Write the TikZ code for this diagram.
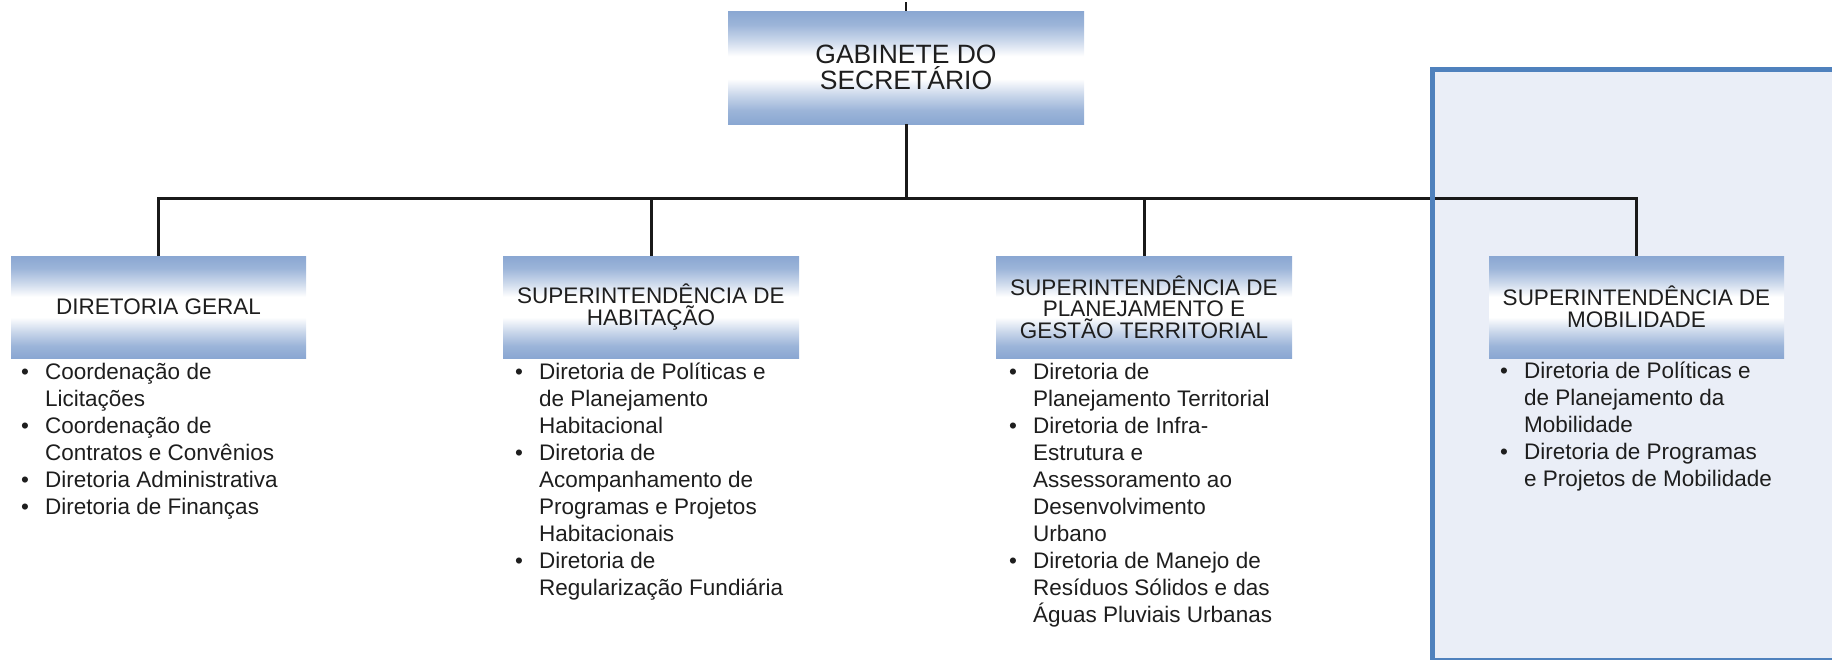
\documentclass[tikz,border=0pt]{standalone}
\usepackage{fontspec}
\setmainfont{Liberation Sans}
\definecolor{boxblue}{RGB}{138,167,210}
\definecolor{framefill}{RGB}{234,238,247}
\definecolor{frameline}{RGB}{79,129,189}
\definecolor{txt}{RGB}{30,30,30}
\pgfdeclareverticalshading{orgshade}{100bp}{color(0bp)=(boxblue); color(25bp)=(boxblue); color(31bp)=(boxblue!85); color(38bp)=(boxblue!45); color(45bp)=(white); color(55bp)=(white); color(62bp)=(boxblue!45); color(69bp)=(boxblue!85); color(75bp)=(boxblue); color(100bp)=(boxblue)}
\tikzset{
  orgbox/.style={shade, shading=orgshade, draw=none, inner sep=0pt, align=center,
    minimum width=296pt, minimum height=102pt, text=txt,
    font=\fontsize{22.5}{21.5}\selectfont},
  topbox/.style={orgbox, minimum width=356pt, minimum height=113pt,
    font=\fontsize{26.5}{25.5}\selectfont},
  listnode/.style={anchor=base west, inner sep=0pt, text=txt,
    font=\fontsize{22.5}{27}\selectfont},
  conn/.style={line width=3pt, black!90},
  frameshape/.style={line width=5pt, draw=frameline}
}
\newcommand{\blt}{\textbullet}
\newenvironment{blist}{\renewcommand{\arraystretch}{1}\begin{tabular}[t]{@{}p{24pt}@{}l@{}}}{\end{tabular}}
\begin{document}
\begin{tikzpicture}[x=1pt,y=-1pt]
\useasboundingbox (0,0) rectangle (1832,659);
% frame background
\begin{scope}
  \clip (0,0) rectangle (1832,659);
  \fill[framefill] (1432,69) rectangle (1850,660);
\end{scope}

% boxes
\node[topbox] (gab) at (906,67.5) {GABINETE DO\\SECRETÁRIO};
\node[orgbox, minimum width=295pt] (dg) at (158.5,307) {DIRETORIA GERAL};
\node[orgbox] (hab) at (651,307) {SUPERINTENDÊNCIA DE\\HABITAÇÃO};
\node[orgbox] (plan) at (1144,307) {SUPERINTENDÊNCIA DE\\PLANEJAMENTO E\\GESTÃO TERRITORIAL};
\node[orgbox, minimum width=295pt] (mob) at (1636.5,307) {SUPERINTENDÊNCIA DE\\MOBILIDADE};

% lists
\node[listnode] (dgl) at (21,379) {\begin{blist}
\blt & Coordenação de\\
 & Licitações\\
\blt & Coordenação de\\
 & Contratos e Convênios\\
\blt & Diretoria Administrativa\\
\blt & Diretoria de Finanças
\end{blist}};
\node[listnode] (habl) at (515,379) {\begin{blist}
\blt & Diretoria de Políticas e\\
 & de Planejamento\\
 & Habitacional\\
\blt & Diretoria de\\
 & Acompanhamento de\\
 & Programas e Projetos\\
 & Habitacionais\\
\blt & Diretoria de\\
 & Regularização Fundiária
\end{blist}};
\node[listnode] (planl) at (1009,379) {\begin{blist}
\blt & Diretoria de\\
 & Planejamento Territorial\\
\blt & Diretoria de Infra-\\
 & Estrutura e\\
 & Assessoramento ao\\
 & Desenvolvimento\\
 & Urbano\\
\blt & Diretoria de Manejo de\\
 & Resíduos Sólidos e das\\
 & Águas Pluviais Urbanas
\end{blist}};
\node[listnode] (mobl) at (1500,378) {\begin{blist}
\blt & Diretoria de Políticas e\\
 & de Planejamento da\\
 & Mobilidade\\
\blt & Diretoria de Programas\\
 & e Projetos de Mobilidade
\end{blist}};

% connectors
\coordinate (stub) at (906,2);
\coordinate (bus) at (906,198);
\draw[line width=2pt, black!90] (stub) -- (gab.north);
\draw[conn] (gab.south) -- (bus);
\draw[conn] (bus) -| (dg.north);
\draw[conn] (bus) -| (hab.north);
\draw[conn] (bus) -| (plan.north);
\draw[conn] (bus) -| (mob.north);

% frame border
\begin{scope}
  \clip (0,0) rectangle (1832,659);
  \draw[frameshape] (1432,69) rectangle (1850,660);
\end{scope}
\end{tikzpicture}
\end{document}
